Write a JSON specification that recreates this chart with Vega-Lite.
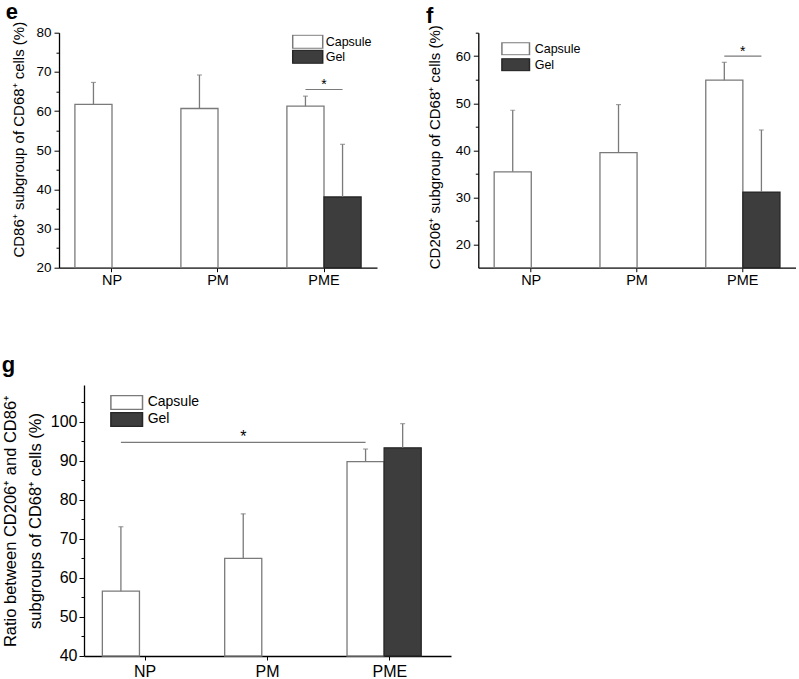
{
  "$schema": "https://vega.github.io/schema/vega-lite/v6.json",
  "padding": {"left": 1, "top": 0.7, "right": 0, "bottom": 0},
  "background": "white",
  "config": {
    "font": "Liberation Sans",
    "view": {"stroke": null},
    "axis": {"grid": false, "labelFont": "Liberation Sans", "titleFont": "Liberation Sans", "labelColor": "black", "titleColor": "black", "domainColor": "black", "tickColor": "black", "titleFontWeight": "normal"},
    "legend": {"labelFont": "Liberation Sans", "labelColor": "black"},
    "title": {"font": "Liberation Sans", "color": "black"}
  },
  "datasets": {
    "e_bars": [
      {"group": "NP", "type": "Capsule", "value": 61.7, "upper": 67.3},
      {"group": "PM", "type": "Capsule", "value": 60.65, "upper": 69.2},
      {"group": "PME", "type": "Capsule", "value": 61.25, "upper": 63.8},
      {"group": "PME", "type": "Gel", "value": 38.05, "upper": 51.5}
    ],
    "e_sig": [
      {"group": "PME", "type": "Capsule", "y": 65.5},
      {"group": "PME", "type": "Gel", "y": 65.5}
    ],
    "e_star": [{"group": "PME", "y": 65.5}],
    "f_bars": [
      {"group": "NP", "type": "Capsule", "value": 35.4, "upper": 48.5},
      {"group": "PM", "type": "Capsule", "value": 39.5, "upper": 49.7},
      {"group": "PME", "type": "Capsule", "value": 54.9, "upper": 58.7},
      {"group": "PME", "type": "Gel", "value": 31.1, "upper": 44.3}
    ],
    "f_sig": [
      {"group": "PME", "type": "Capsule", "y": 60},
      {"group": "PME", "type": "Gel", "y": 60}
    ],
    "f_star": [{"group": "PME", "y": 60}],
    "g_bars": [
      {"group": "NP", "type": "Capsule", "value": 56.6, "upper": 73.1},
      {"group": "PM", "type": "Capsule", "value": 65.0, "upper": 76.4},
      {"group": "PME", "type": "Capsule", "value": 89.75, "upper": 93.0},
      {"group": "PME", "type": "Gel", "value": 93.3, "upper": 99.5}
    ],
    "g_sig": [
      {"group": "NP", "type": "Capsule", "y": 94.7},
      {"group": "PME", "type": "Capsule", "y": 94.7}
    ],
    "g_star": [{"group": "PM", "type": "Capsule", "y": 94.7}]
  },
  "bounds": "flush",
  "spacing": 352.3,
  "resolve": {"scale": {"fill": "independent", "stroke": "independent"}, "legend": {"fill": "independent", "stroke": "independent"}},
  "vconcat": [
    {
      "bounds": "flush",
      "spacing": 101.3,
      "resolve": {"scale": {"fill": "independent", "stroke": "independent"}, "legend": {"fill": "independent", "stroke": "independent"}},
      "hconcat": [
        {
          "width": 318,
          "height": 235,
          "title": {"text": "e", "anchor": "start", "frame": "group", "fontSize": 22, "fontWeight": "bold", "baseline": "alphabetic", "offset": -20.2, "dx": -53.3},
          "resolve": {"axis": {"y": "independent"}},
          "layer": [
            {
              "data": {"name": "e_bars"},
              "mark": {"type": "bar", "strokeWidth": 1.3},
              "encoding": {
                "x": {"field": "group", "type": "nominal", "sort": ["NP", "PM", "PME"], "scale": {"paddingInner": 0.3, "paddingOuter": 0.15},
                      "axis": {"title": null, "labelAngle": 0, "tickSize": 4, "labelPadding": 1.5, "labelFontSize": 14.5, "domainWidth": 1.3}},
                "xOffset": {"field": "type", "type": "nominal", "scale": {"domain": ["Capsule", "Gel"], "paddingInner": 0, "paddingOuter": 0}},
                "y": {"field": "value", "type": "quantitative", "scale": {"domain": [20, 80], "nice": false, "zero": false},
                      "axis": {"orient": "left", "values": [20, 30, 40, 50, 60, 70, 80], "tickSize": 5, "labelPadding": 3, "labelFontSize": 13.5, "domainWidth": 1.3,
                               "title": "CD86⁺ subgroup of CD68⁺ cells (%)", "titleFontSize": 15, "titleX": -36, "titleY": 106.5, "titleBaseline": "alphabetic", "titleAngle": -90, "titleAlign": "center"}},
                "y2": {"datum": 20},
                "fill": {"field": "type", "type": "nominal", "scale": {"domain": ["Capsule", "Gel"], "range": ["#ffffff", "#3d3d3d"]},
                         "legend": {"title": null, "orient": "none", "legendX": 232.7, "legendY": 2.0, "symbolType": "M-1,-0.45H1V0.45H-1Z", "symbolSize": 900, "symbolStrokeWidth": 1.5, "labelFontSize": 12.5, "labelOffset": 2, "clipHeight": 14, "rowPadding": 1, "padding": 0}},
                "stroke": {"field": "type", "type": "nominal", "scale": {"domain": ["Capsule", "Gel"], "range": ["#7a7a7a", "#262626"]},
                         "legend": {"title": null, "orient": "none", "legendX": 232.7, "legendY": 2.0, "symbolType": "M-1,-0.45H1V0.45H-1Z", "symbolSize": 900, "symbolStrokeWidth": 1.5, "labelFontSize": 12.5, "labelOffset": 2, "clipHeight": 14, "rowPadding": 1, "padding": 0}}
              }
            },
            {
              "data": {"name": "e_bars"},
              "mark": {"type": "rule", "color": "#7a7a7a", "strokeWidth": 1.3},
              "encoding": {
                "x": {"field": "group", "type": "nominal", "sort": ["NP", "PM", "PME"]},
                "xOffset": {"field": "type", "type": "nominal"},
                "y": {"field": "value", "type": "quantitative", "axis": {"orient": "left", "values": [25, 35, 45, 55, 65, 75], "labels": false, "domain": false, "tickSize": 3, "title": null}},
                "y2": {"field": "upper"}
              }
            },
            {
              "data": {"name": "e_bars"},
              "mark": {"type": "tick", "color": "#7a7a7a", "size": 5, "thickness": 1.2, "orient": "horizontal"},
              "encoding": {
                "x": {"field": "group", "type": "nominal", "sort": ["NP", "PM", "PME"]},
                "xOffset": {"field": "type", "type": "nominal"},
                "y": {"field": "upper", "type": "quantitative", "axis": null}
              }
            },
            {
              "data": {"name": "e_sig"},
              "mark": {"type": "line", "color": "#7a7a7a", "strokeWidth": 1.2},
              "encoding": {
                "x": {"field": "group", "type": "nominal", "sort": ["NP", "PM", "PME"]},
                "xOffset": {"field": "type", "type": "nominal"},
                "y": {"field": "y", "type": "quantitative", "axis": null}
              }
            },
            {
              "data": {"name": "e_star"},
              "mark": {"type": "text", "text": "*", "fontSize": 14, "baseline": "alphabetic", "color": "black"},
              "encoding": {
                "x": {"field": "group", "type": "nominal", "sort": ["NP", "PM", "PME"]},
                "y": {"field": "y", "type": "quantitative", "axis": null}
              }
            }
          ]
        },
        {
          "width": 317.4,
          "height": 235,
          "title": {"text": "f", "anchor": "start", "frame": "group", "fontSize": 22, "fontWeight": "bold", "baseline": "alphabetic", "offset": -20.2, "dx": -52.3},
          "resolve": {"axis": {"y": "independent"}},
          "layer": [
            {
              "data": {"name": "f_bars"},
              "mark": {"type": "bar", "strokeWidth": 1.3},
              "encoding": {
                "x": {"field": "group", "type": "nominal", "sort": ["NP", "PM", "PME"], "scale": {"paddingInner": 0.3, "paddingOuter": 0.15},
                      "axis": {"title": null, "labelAngle": 0, "tickSize": 4, "labelPadding": 1.5, "labelFontSize": 14.5, "domainWidth": 1.3}},
                "xOffset": {"field": "type", "type": "nominal", "scale": {"domain": ["Capsule", "Gel"], "paddingInner": 0, "paddingOuter": 0}},
                "y": {"field": "value", "type": "quantitative", "scale": {"domain": [15, 65], "nice": false, "zero": false},
                      "axis": {"orient": "left", "values": [20, 30, 40, 50, 60], "tickSize": 5, "labelPadding": 3, "labelFontSize": 13.5, "domainWidth": 1.3,
                               "title": "CD206⁺ subgroup of CD68⁺ cells (%)", "titleFontSize": 15, "titleX": -38.3, "titleY": 114, "titleBaseline": "alphabetic", "titleAngle": -90, "titleAlign": "center"}},
                "y2": {"datum": 15},
                "fill": {"field": "type", "type": "nominal", "scale": {"domain": ["Capsule", "Gel"], "range": ["#ffffff", "#3d3d3d"]},
                         "legend": {"title": null, "orient": "none", "legendX": 22.4, "legendY": 9.6, "symbolType": "M-1,-0.45H1V0.45H-1Z", "symbolSize": 760, "symbolStrokeWidth": 1.5, "labelFontSize": 12.5, "labelOffset": 4, "clipHeight": 13, "rowPadding": 3, "padding": 0}},
                "stroke": {"field": "type", "type": "nominal", "scale": {"domain": ["Capsule", "Gel"], "range": ["#7a7a7a", "#262626"]},
                         "legend": {"title": null, "orient": "none", "legendX": 22.4, "legendY": 9.6, "symbolType": "M-1,-0.45H1V0.45H-1Z", "symbolSize": 760, "symbolStrokeWidth": 1.5, "labelFontSize": 12.5, "labelOffset": 4, "clipHeight": 13, "rowPadding": 3, "padding": 0}}
              }
            },
            {
              "data": {"name": "f_bars"},
              "mark": {"type": "rule", "color": "#7a7a7a", "strokeWidth": 1.3},
              "encoding": {
                "x": {"field": "group", "type": "nominal", "sort": ["NP", "PM", "PME"]},
                "xOffset": {"field": "type", "type": "nominal"},
                "y": {"field": "value", "type": "quantitative", "axis": {"orient": "left", "values": [25, 35, 45, 55, 65], "labels": false, "domain": false, "tickSize": 3, "title": null}},
                "y2": {"field": "upper"}
              }
            },
            {
              "data": {"name": "f_bars"},
              "mark": {"type": "tick", "color": "#7a7a7a", "size": 5, "thickness": 1.2, "orient": "horizontal"},
              "encoding": {
                "x": {"field": "group", "type": "nominal", "sort": ["NP", "PM", "PME"]},
                "xOffset": {"field": "type", "type": "nominal"},
                "y": {"field": "upper", "type": "quantitative", "axis": null}
              }
            },
            {
              "data": {"name": "f_sig"},
              "mark": {"type": "line", "color": "#7a7a7a", "strokeWidth": 1.2},
              "encoding": {
                "x": {"field": "group", "type": "nominal", "sort": ["NP", "PM", "PME"]},
                "xOffset": {"field": "type", "type": "nominal"},
                "y": {"field": "y", "type": "quantitative", "axis": null}
              }
            },
            {
              "data": {"name": "f_star"},
              "mark": {"type": "text", "text": "*", "fontSize": 14, "baseline": "alphabetic", "color": "black"},
              "encoding": {
                "x": {"field": "group", "type": "nominal", "sort": ["NP", "PM", "PME"]},
                "y": {"field": "y", "type": "quantitative", "axis": null}
              }
            }
          ]
        }
      ]
    },
    {
      "bounds": "flush",
      "spacing": 0,
      "resolve": {"scale": {"fill": "independent", "stroke": "independent"}, "legend": {"fill": "independent", "stroke": "independent"}},
      "hconcat": [
        {
          "width": 24.3,
          "height": 271,
          "data": {"values": [{}]},
          "mark": {"type": "text", "text": ""},
          "encoding": {}
        },
        {
          "width": 367,
          "height": 271,
          "title": {"text": "g", "anchor": "start", "frame": "group", "fontSize": 22, "fontWeight": "bold", "baseline": "alphabetic", "offset": -9.2, "dx": -82.3},
          "resolve": {"axis": {"y": "independent"}},
          "layer": [
            {
              "data": {"name": "g_bars"},
              "mark": {"type": "bar", "strokeWidth": 1.3},
              "encoding": {
                "x": {"field": "group", "type": "nominal", "sort": ["NP", "PM", "PME"], "scale": {"paddingInner": 0.3, "paddingOuter": 0.15},
                      "axis": {"title": null, "labelAngle": 0, "tickSize": 4, "labelPadding": 3.5, "labelFontSize": 16, "domainWidth": 1.3}},
                "xOffset": {"field": "type", "type": "nominal", "scale": {"domain": ["Capsule", "Gel"], "paddingInner": 0, "paddingOuter": 0}},
                "y": {"field": "value", "type": "quantitative", "scale": {"domain": [40, 109.4], "nice": false, "zero": false},
                      "axis": {"orient": "left", "values": [40, 50, 60, 70, 80, 90, 100], "tickSize": 5, "labelPadding": 2, "labelFontSize": 16, "domainWidth": 1.3,
                               "title": ["Ratio between CD206⁺ and CD86⁺", "subgroups of CD68⁺ cells (%)"], "titleFontSize": 16.5, "titleLineHeight": 24.5, "titleX": -68.3, "titleY": 135.5, "titleBaseline": "alphabetic", "titleAngle": -90, "titleAlign": "center"}},
                "y2": {"datum": 40},
                "fill": {"field": "type", "type": "nominal", "scale": {"domain": ["Capsule", "Gel"], "range": ["#ffffff", "#3d3d3d"]},
                         "legend": {"title": null, "orient": "none", "legendX": 25.7, "legendY": 10, "symbolType": "M-1,-0.45H1V0.45H-1Z", "symbolSize": 1000, "symbolStrokeWidth": 1.5, "labelFontSize": 14, "labelOffset": 4, "clipHeight": 15, "rowPadding": 2, "padding": 0}},
                "stroke": {"field": "type", "type": "nominal", "scale": {"domain": ["Capsule", "Gel"], "range": ["#7a7a7a", "#262626"]},
                         "legend": {"title": null, "orient": "none", "legendX": 25.7, "legendY": 10, "symbolType": "M-1,-0.45H1V0.45H-1Z", "symbolSize": 1000, "symbolStrokeWidth": 1.5, "labelFontSize": 14, "labelOffset": 4, "clipHeight": 15, "rowPadding": 2, "padding": 0}}
              }
            },
            {
              "data": {"name": "g_bars"},
              "mark": {"type": "rule", "color": "#7a7a7a", "strokeWidth": 1.3},
              "encoding": {
                "x": {"field": "group", "type": "nominal", "sort": ["NP", "PM", "PME"]},
                "xOffset": {"field": "type", "type": "nominal"},
                "y": {"field": "value", "type": "quantitative", "axis": {"orient": "left", "values": [45, 55, 65, 75, 85, 95, 105], "labels": false, "domain": false, "tickSize": 3, "title": null}},
                "y2": {"field": "upper"}
              }
            },
            {
              "data": {"name": "g_bars"},
              "mark": {"type": "tick", "color": "#7a7a7a", "size": 5, "thickness": 1.2, "orient": "horizontal"},
              "encoding": {
                "x": {"field": "group", "type": "nominal", "sort": ["NP", "PM", "PME"]},
                "xOffset": {"field": "type", "type": "nominal"},
                "y": {"field": "upper", "type": "quantitative", "axis": null}
              }
            },
            {
              "data": {"name": "g_sig"},
              "mark": {"type": "line", "color": "#7a7a7a", "strokeWidth": 1.2},
              "encoding": {
                "x": {"field": "group", "type": "nominal", "sort": ["NP", "PM", "PME"]},
                "xOffset": {"field": "type", "type": "nominal"},
                "y": {"field": "y", "type": "quantitative", "axis": null}
              }
            },
            {
              "data": {"name": "g_star"},
              "mark": {"type": "text", "text": "*", "fontSize": 16, "baseline": "alphabetic", "color": "black"},
              "encoding": {
                "x": {"field": "group", "type": "nominal", "sort": ["NP", "PM", "PME"]},
                "xOffset": {"field": "type", "type": "nominal"},
                "y": {"field": "y", "type": "quantitative", "axis": null}
              }
            }
          ]
        }
      ]
    }
  ]
}
